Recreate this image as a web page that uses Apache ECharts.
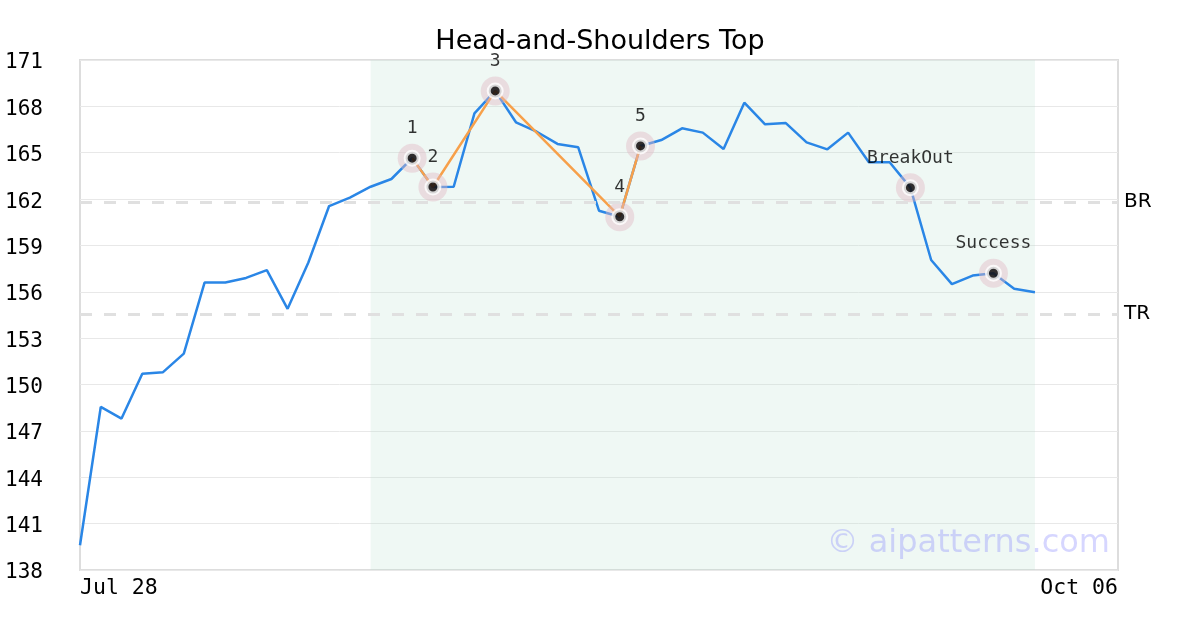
<!DOCTYPE html>
<html>
<head>
<meta charset="utf-8">
<script src="https://cdn.jsdelivr.net/npm/echarts@6/dist/echarts.min.js"></script>
<style>
  html, body { margin: 0; padding: 0; background: #fff; }
  #chart { width: 1200px; height: 630px; }
</style>
</head>
<body>
<div id="chart"></div>
<script>
// weekday dates, Jul 28 -> Oct 06
const dates = [
  'Jul 28','Jul 29','Jul 30','Jul 31','Aug 01',
  'Aug 04','Aug 05','Aug 06','Aug 07','Aug 08',
  'Aug 11','Aug 12','Aug 13','Aug 14','Aug 15',
  'Aug 18','Aug 19','Aug 20','Aug 21','Aug 22',
  'Aug 25','Aug 26','Aug 27','Aug 28','Aug 29',
  'Sep 01','Sep 02','Sep 03','Sep 04','Sep 05',
  'Sep 08','Sep 09','Sep 10','Sep 11','Sep 12',
  'Sep 15','Sep 16','Sep 17','Sep 18','Sep 19',
  'Sep 22','Sep 23','Sep 24','Sep 25','Sep 26',
  'Sep 29','Sep 30','Oct 01','Oct 02','Oct 03',
  'Oct 06'
];

// closing prices
const prices = [
  139.6, 148.55, 147.8, 150.7, 150.8, 152.0, 156.6, 156.6, 156.9, 157.4,
  154.9, 157.9, 161.55, 162.1, 162.8, 163.3, 164.65, 162.78, 162.8, 167.55,
  169.0, 166.97, 166.36, 165.57, 165.35, 161.25, 160.86, 165.44, 165.82, 166.58,
  166.3, 165.24, 168.24, 166.84, 166.92, 165.67, 165.22, 166.3, 164.38, 164.38,
  162.74, 158.06, 156.5, 157.05, 157.2, 156.2, 155.97
];

// pattern pivots (index in dates) and labels
const pivotIdx = [16, 17, 20, 26, 27];
const pivotLabels = ['1', '2', '3', '4', '5'];
const eventIdx = [40, 44];
const eventLabels = ['BreakOut', 'Success'];

const patternStart = 14;
const patternEnd = 46;
const levelBR = 161.8;
const levelTR = 154.55;

const yTicks = { min: 138, max: 171, interval: 3 };

const mono = 'DejaVu Sans Mono';
const sans = 'DejaVu Sans';

const pivotPoints = pivotIdx.map((i, k) => ({ value: [i, prices[i]], label: pivotLabels[k] }));
const eventPoints = eventIdx.map((i, k) => ({ value: [i, prices[i]], label: eventLabels[k] }));
const allMarks = pivotPoints.concat(eventPoints);

const chart = echarts.init(document.getElementById('chart'));
chart.setOption({
  animation: false,
  backgroundColor: '#fff',
  title: {
    text: 'Head-and-Shoulders Top',
    left: 'center',
    top: 23,
    textStyle: { fontFamily: sans, fontSize: 27, fontWeight: 'normal', color: '#000' }
  },
  grid: {
    left: 80, right: 82, top: 60, bottom: 60,
    show: true, borderColor: '#dddddd', borderWidth: 2
  },
  xAxis: {
    type: 'category',
    data: dates,
    boundaryGap: false,
    axisLine: { show: false },
    axisTick: { show: false },
    splitLine: { show: false },
    axisLabel: {
      interval: (i) => i === 0 || i === dates.length - 1,
      fontFamily: mono, fontSize: 21.5, color: '#000', margin: 7,
      alignMinLabel: 'left', alignMaxLabel: 'right'
    }
  },
  yAxis: {
    type: 'value',
    min: yTicks.min, max: yTicks.max, interval: yTicks.interval,
    axisLine: { show: false },
    axisTick: { show: false },
    splitLine: { lineStyle: { color: '#e8e8e8', width: 1 } },
    axisLabel: {
      align: 'left', margin: 75,
      formatter: '{t|{value}}',
      rich: {
        t: { fontFamily: mono, fontSize: 21, color: '#000', padding: [6, 0, 0, 0] }
      }
    }
  },
  graphic: [{
    type: 'text',
    right: 90,
    top: 528,
    style: {
      text: '\u00a9 aipatterns.com',
      fontFamily: sans, fontSize: 32,
      fill: 'rgba(120,120,255,0.3)'
    },
    z: 100
  }],
  series: [
    {
      type: 'line',
      data: prices,
      symbol: 'none',
      lineStyle: { color: '#2a86e6', width: 2.5 },
      z: 2,
      markArea: {
        silent: true,
        itemStyle: { color: 'rgba(180,222,204,0.22)' },
        data: [[{ xAxis: patternStart }, { xAxis: patternEnd }]]
      },
      markLine: {
        silent: true,
        symbol: 'none',
        lineStyle: { color: '#e0e0e0', type: [12, 12], width: 3 },
        label: {
          position: 'end', distance: 6,
          fontFamily: sans, fontSize: 20, color: '#000',
          formatter: (p) => p.name
        },
        data: [
          { name: 'BR', yAxis: levelBR },
          { name: 'TR', yAxis: levelTR }
        ]
      }
    },
    {
      type: 'line',
      data: pivotPoints.map(p => p.value),
      symbol: 'none',
      lineStyle: { color: '#f7a04a', width: 2.5 },
      z: 3
    },
    {
      type: 'scatter',
      data: allMarks.map(p => p.value),
      symbolSize: 29,
      itemStyle: { color: 'rgba(225,185,195,0.55)' },
      z: 4
    },
    {
      type: 'scatter',
      data: allMarks.map(p => ({ value: p.value, name: p.label })),
      symbolSize: 13,
      itemStyle: { color: '#000', borderColor: '#fff', borderWidth: 4 },
      label: {
        show: true, position: 'top', distance: 12,
        formatter: (p) => p.name,
        fontFamily: mono, fontSize: 18, color: '#000'
      },
      z: 5
    }
  ]
});
</script>
</body>
</html>
